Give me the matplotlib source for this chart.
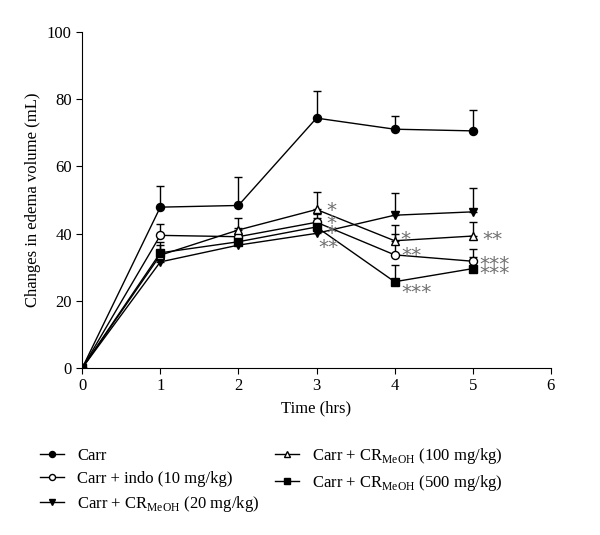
import numpy as np
import matplotlib.pyplot as plt

plt.rcParams['font.family'] = ['Liberation Serif', 'DejaVu Serif']
plt.rcParams['mathtext.fontset'] = 'custom'
plt.rcParams['mathtext.rm'] = 'Liberation Serif'

# ================= Data ===================
hours = [0, 1, 2, 3, 4, 5]
carr = [0, 47.9, 48.4, 74.4, 71.1, 70.6]
carr_err = [0, 6.4, 8.6, 8.1, 4.0, 6.2]
indo = [0, 39.5, 39.1, 43.4, 33.7, 31.8]
indo_err = [0, 3.3, 2.5, 2.6, 6.2, 3.5]
cr20 = [0, 31.6, 36.6, 40.1, 45.5, 46.5]
cr20_err = [0, 2.5, 2.0, 2.2, 6.5, 7.0]
cr100 = [0, 33.6, 41.1, 47.2, 37.9, 39.3]
cr100_err = [0, 3.0, 3.7, 5.3, 4.7, 4.1]
cr500 = [0, 34.3, 37.6, 42.0, 25.7, 29.6]
cr500_err = [0, 3.3, 2.2, 2.8, 5.0, 3.5]

labels = ['Carr',
          'Carr + indo (10 mg/kg)',
          r'Carr + CR$_{\mathrm{MeOH}}$ (20 mg/kg)',
          r'Carr + CR$_{\mathrm{MeOH}}$ (100 mg/kg)',
          r'Carr + CR$_{\mathrm{MeOH}}$ (500 mg/kg)']

# significance marks: (x, y, text)
stars = [(3.13, 46.8, '*'), (3.13, 42.9, '*'), (3.13, 40.2, '*'),
         (3.02, 36.0, '**'),
         (4.07, 38.2, '*'), (4.09, 33.4, '**'), (4.09, 22.6, '***'),
         (5.12, 38.2, '**'), (5.09, 30.8, '***'), (5.09, 28.1, '***')]

# ================= Plot ===================
fig = plt.figure(figsize=(6, 5.35), dpi=100)
ax = fig.add_axes([0.137, 0.312, 0.781, 0.628])

series = [(carr, carr_err, 'o', 'black'),
          (indo, indo_err, 'o', 'white'),
          (cr20, cr20_err, 'v', 'black'),
          (cr100, cr100_err, '^', 'white'),
          (cr500, cr500_err, 's', 'black')]

handles = []
for (vals, err, mk, fc), lab in zip(series, labels):
    ax.errorbar(hours, vals, yerr=[np.zeros(len(err)), err], fmt='none',
                ecolor='black', elinewidth=1, capsize=3, capthick=1, zorder=2)
    h, = ax.plot(hours, vals, color='black', lw=1, marker=mk, ms=5.8,
                 mfc=fc, mec='black', mew=1, label=lab, zorder=3)
    handles.append(h)

for sx, sy, txt in stars:
    ax.text(sx, sy, txt, color='#707070', fontsize=14.5, family='DejaVu Sans',
            ha='left', va='center')

ax.set_xlim(0, 6)
ax.set_ylim(0, 100)
ax.set_xticks(range(0, 7))
ax.set_yticks(range(0, 101, 20))
ax.spines['top'].set_visible(False)
ax.spines['right'].set_visible(False)
ax.tick_params(labelsize=12, length=4, direction='out')
ax.set_xlabel('Time (hrs)', fontsize=12)
ax.set_ylabel('Changes in edema volume (mL)', fontsize=12)

fig.legend(handles=handles, loc='upper left', bbox_to_anchor=(0.047, 0.188),
           ncol=2, frameon=False, fontsize=12, handlelength=1.45,
           handletextpad=0.8, columnspacing=0.9, labelspacing=0.42,
           markerscale=0.75, borderpad=0.2)

fig.savefig('out.png', dpi=100)
